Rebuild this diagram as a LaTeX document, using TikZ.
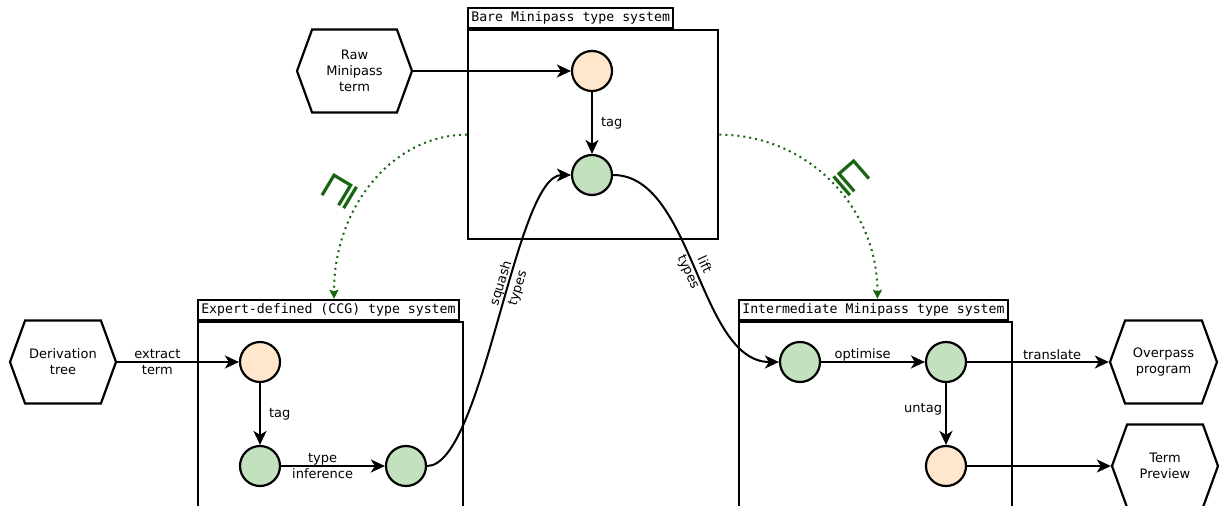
\documentclass[tikz,border=0pt]{standalone}
\usepackage{fontspec}
\setmainfont{DejaVu Sans}
\setmonofont{DejaVu Sans Mono}
\newfontfamily\symfont{DejaVu Sans}
\usetikzlibrary{arrows.meta,shapes.symbols}

\definecolor{tagorange}{HTML}{FFE6CC}
\definecolor{typedgreen}{HTML}{C3E0BF}
\definecolor{orderg}{HTML}{18650F}

\begin{document}
\begin{tikzpicture}[x=1pt,y=-1pt,
  every node/.style={font=\fontsize{13}{16}\selectfont},
  term/.style={circle, draw, line width=2.2pt, minimum size=40pt, inner sep=0pt},
  rawterm/.style={term, fill=tagorange},
  typedterm/.style={term, fill=typedgreen},
  frame/.style={draw, line width=2.4pt, fill=white, inner sep=0pt, anchor=north west},
  frametitle/.style={draw, line width=2.2pt, fill=white, anchor=south west,
    inner xsep=3.2pt, inner ysep=3.5pt, text height=9.8pt, text depth=3.2pt,
    font=\ttfamily\fontsize{13.2}{16}\selectfont},
  hexnode/.style={signal, signal to=west and east, signal pointer angle=140,
    draw, line width=2.2pt, minimum height=83pt, align=center, inner sep=0pt},
  flow/.style={line width=2pt, -{Stealth[length=14pt,width=13pt,inset=4pt]}},
  order/.style={orderg, line width=2pt, dash pattern=on 2pt off 4pt,
    -{Stealth[length=9pt,width=9pt,inset=1.5pt]}},
  lbl/.style={align=center, inner sep=1pt},
  curvelbl/.style={lbl, sloped, font=\fontsize{13}{17.5}\selectfont},
  ordersym/.style={text=orderg, inner sep=0pt, font=\symfont\fontsize{40}{40}\selectfont},
]
\useasboundingbox (0,0) rectangle (1219,506);
\clip (0,0) rectangle (1219,506);

% type-system frames
\node[frame, minimum width=250pt, minimum height=209pt] (bare) at (467,29) {};
\node[frametitle] (baretitle) at (bare.north west) {Bare Minipass type system};
\node[frame, minimum width=265pt, minimum height=260pt] (expert) at (197,321) {};
\node[frametitle] (experttitle) at (expert.north west) {Expert-defined (CCG) type system};
\node[frame, minimum width=273pt, minimum height=260pt] (inter) at (738,321) {};
\node[frametitle] (intertitle) at (inter.north west) {Intermediate Minipass type system};

% inputs and outputs
\node[hexnode, minimum width=115pt] (rawin) at (354.5,71) {Raw\\Minipass\\term};
\node[hexnode, minimum width=106pt] (deriv) at (63,362) {Derivation\\tree};
\node[hexnode, minimum width=107pt] (overpass) at (1163.5,362) {Overpass\\program};
\node[hexnode, minimum width=106pt] (preview) at (1165,466) {Term\\Preview};

% terms
\node[rawterm] (bo) at (592,71) {};
\node[typedterm] (bg) at (592,175) {};
\node[rawterm] (eo) at (260,362) {};
\node[typedterm] (eg) at (260,466) {};
\node[typedterm] (ei) at (406,466) {};
\node[typedterm] (ig) at (800,362) {};
\node[typedterm] (io) at (946,362) {};
\node[rawterm] (iu) at (946,466) {};

% ordering between type systems
\draw[order] (bare.west) .. controls +(-74,0) and +(0,-92) .. ([xshift=5.5pt]experttitle.north);
\draw[order] (bare.east) .. controls +(88,0) and +(0,-92) .. ([xshift=4pt]intertitle.north);
\node[ordersym, rotate=59] (sqleft) at (340,191) {⊒};
\node[ordersym, rotate=-49] (sqright) at (852,178) {⊑};

% pipeline
\draw[flow] (rawin.east) -- (bo.west);
\draw[flow] (bo) -- node[lbl, right=7pt] {tag} (bg);
\draw[flow] (bg.east) .. controls +(80,0) and +(-80,0) .. node[curvelbl, pos=0.5] {lift\\types} (ig.west);
\draw[flow] (ei.east) .. controls +(56,0) and +(-56,0) .. node[curvelbl, pos=0.58] {squash\\types} (bg.west);

\draw[flow] (deriv.east) -- node[lbl, pos=0.33] {extract\\term} (eo.west);
\draw[flow] (eo) -- node[lbl, right=7pt] {tag} (eg);
\draw[flow] (eg) -- node[lbl, pos=0.4] {type\\inference} (ei);

\draw[flow] (ig) -- node[lbl, pos=0.4, anchor=base, yshift=4pt] {optimise} (io);
\draw[flow] (io) -- node[lbl, pos=0.6, anchor=base, yshift=3pt] {translate} (overpass.west);
\draw[flow] (io) -- node[lbl, pos=0.42, left=2pt] {untag} (iu);
\draw[flow] (iu) -- (preview.west);
\end{tikzpicture}
\end{document}
